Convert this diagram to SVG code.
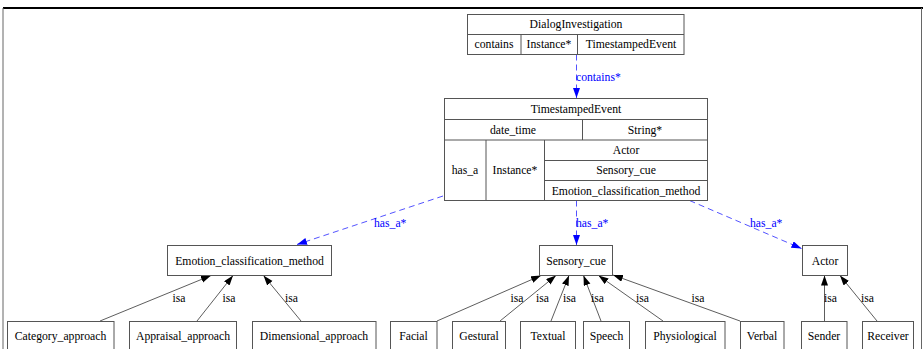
<svg xmlns="http://www.w3.org/2000/svg" width="923" height="349" viewBox="0 0 923 349">
<style>
text{font-family:"Liberation Serif","Times New Roman",serif;font-size:11.7px;fill:#000;text-anchor:middle}
.lbl{text-anchor:start}
.blue{fill:#0000ff;text-anchor:start}
.box{fill:#fff;stroke:#555;stroke-width:1}
.ln{stroke:#555;stroke-width:1;fill:none}
.isa{stroke:#333;stroke-width:0.8;fill:none;marker-end:url(#ah)}
.has{stroke:#4040ff;stroke-width:0.9;fill:none;stroke-dasharray:6,4;marker-end:url(#bh)}
</style>
<defs>
<marker id="ah" markerUnits="userSpaceOnUse" markerWidth="11" markerHeight="8" refX="10" refY="3.5" orient="auto"><path d="M0,0 L10,3.5 L0,7 z" fill="#000"/></marker>
<marker id="bh" markerUnits="userSpaceOnUse" markerWidth="11" markerHeight="8" refX="10" refY="3.5" orient="auto"><path d="M0,0 L10,3.5 L0,7 z" fill="#0000ff"/></marker>
</defs>
<rect x="0" y="0" width="923" height="349" fill="#fff"/>
<line x1="3" y1="8" x2="923" y2="8" stroke="#000" stroke-width="2"/>
<line x1="3" y1="8" x2="3" y2="349" stroke="#666" stroke-width="1"/>
<line x1="921.5" y1="8" x2="921.5" y2="349" stroke="#666" stroke-width="1"/>

<g id="edges">
<line class="has" x1="576.5" y1="54.5" x2="576.5" y2="98"/>
<text class="blue" x="576" y="80.5">contains*</text>
<line class="has" x1="443" y1="196" x2="297" y2="244.5"/>
<text class="blue" x="374" y="227">has_a*</text>
<line class="has" x1="576.5" y1="200.5" x2="576.5" y2="245"/>
<text class="blue" x="576" y="227">has_a*</text>
<line class="has" x1="689.5" y1="200.5" x2="801.5" y2="248.5"/>
<text class="blue" x="750" y="226.5">has_a*</text>

<line class="isa" x1="100" y1="321" x2="211" y2="275.5"/>
<text class="lbl" x="172.5" y="302">isa</text>
<line class="isa" x1="197" y1="321" x2="233" y2="275.5"/>
<text class="lbl" x="222.5" y="302">isa</text>
<line class="isa" x1="301" y1="321" x2="263.5" y2="275.5"/>
<text class="lbl" x="285" y="302">isa</text>

<line class="isa" x1="437" y1="321" x2="541" y2="275.5"/>
<text class="lbl" x="510.5" y="302">isa</text>
<line class="isa" x1="500" y1="321" x2="556" y2="275.5"/>
<text class="lbl" x="536" y="302">isa</text>
<line class="isa" x1="551" y1="321" x2="569" y2="275.5"/>
<text class="lbl" x="563" y="302">isa</text>
<line class="isa" x1="601" y1="321" x2="583.5" y2="275.5"/>
<text class="lbl" x="591" y="302">isa</text>
<line class="isa" x1="663" y1="321" x2="598.5" y2="275.5"/>
<text class="lbl" x="636" y="302">isa</text>
<line class="isa" x1="740" y1="321" x2="613" y2="275"/>
<text class="lbl" x="691.5" y="302">isa</text>

<line class="isa" x1="824.5" y1="321" x2="824.5" y2="275.5"/>
<text class="lbl" x="824" y="302">isa</text>
<line class="isa" x1="877" y1="321" x2="840" y2="275.5"/>
<text class="lbl" x="861" y="302">isa</text>
</g>

<g id="DialogInvestigation">
<rect class="box" x="467.5" y="14.5" width="216.5" height="40"/>
<line class="ln" x1="467.5" y1="34.5" x2="684" y2="34.5"/>
<line class="ln" x1="521" y1="34.5" x2="521" y2="54.5"/>
<line class="ln" x1="577.5" y1="34.5" x2="577.5" y2="54.5"/>
<text x="576" y="28">DialogInvestigation</text>
<text x="494" y="48">contains</text>
<text x="549" y="48">Instance*</text>
<text x="631" y="48">TimestampedEvent</text>
</g>

<g id="TimestampedEvent">
<rect class="box" x="444.5" y="98.5" width="263" height="102"/>
<line class="ln" x1="444.5" y1="119.5" x2="707.5" y2="119.5"/>
<line class="ln" x1="444.5" y1="140" x2="707.5" y2="140"/>
<line class="ln" x1="582.5" y1="119.5" x2="582.5" y2="140"/>
<line class="ln" x1="486" y1="140" x2="486" y2="200.5"/>
<line class="ln" x1="544.5" y1="140" x2="544.5" y2="200.5"/>
<line class="ln" x1="544.5" y1="160.5" x2="707.5" y2="160.5"/>
<line class="ln" x1="544.5" y1="180.5" x2="707.5" y2="180.5"/>
<text x="576" y="113">TimestampedEvent</text>
<text x="513" y="134">date_time</text>
<text x="645" y="134">String*</text>
<text x="465" y="174">has_a</text>
<text x="515" y="174">Instance*</text>
<text x="626" y="154">Actor</text>
<text x="626" y="174">Sensory_cue</text>
<text x="626" y="194.5">Emotion_classification_method</text>
</g>

<g id="Emotion_classification_method">
<rect class="box" x="167.5" y="245.5" width="164" height="30"/>
<text x="249.5" y="264.5">Emotion_classification_method</text>
</g>
<g id="Sensory_cue">
<rect class="box" x="539.5" y="245.5" width="73" height="30"/>
<text x="576" y="264.5">Sensory_cue</text>
</g>
<g id="Actor">
<rect class="box" x="802.5" y="245.5" width="45" height="30"/>
<text x="825" y="264.5">Actor</text>
</g>

<g id="Category_approach"><rect class="box" x="7.5" y="321.5" width="106.5" height="40"/><text x="60.5" y="339.5">Category_approach</text></g>
<g id="Appraisal_approach"><rect class="box" x="129.5" y="321.5" width="107" height="40"/><text x="183" y="339.5">Appraisal_approach</text></g>
<g id="Dimensional_approach"><rect class="box" x="252.5" y="321.5" width="123.5" height="40"/><text x="314" y="339.5">Dimensional_approach</text></g>
<g id="Facial"><rect class="box" x="390.5" y="321.5" width="46.5" height="40"/><text x="413.5" y="339.5">Facial</text></g>
<g id="Gestural"><rect class="box" x="452.5" y="321.5" width="53" height="40"/><text x="479" y="339.5">Gestural</text></g>
<g id="Textual"><rect class="box" x="520.5" y="321.5" width="55" height="40"/><text x="548" y="339.5">Textual</text></g>
<g id="Speech"><rect class="box" x="583.5" y="321.5" width="46" height="40"/><text x="606.5" y="339.5">Speech</text></g>
<g id="Physiological"><rect class="box" x="645.5" y="321.5" width="79.5" height="40"/><text x="685" y="339.5">Physiological</text></g>
<g id="Verbal"><rect class="box" x="740.5" y="321.5" width="43.5" height="40"/><text x="762" y="339.5">Verbal</text></g>
<g id="Sender"><rect class="box" x="801.5" y="321.5" width="45.5" height="40"/><text x="824" y="339.5">Sender</text></g>
<g id="Receiver"><rect class="box" x="862.5" y="321.5" width="51" height="40"/><text x="888" y="339.5">Receiver</text></g>
</svg>
